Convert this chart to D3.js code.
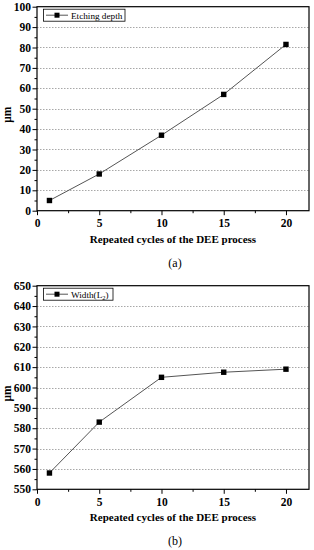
<!DOCTYPE html>
<html>
<head>
<meta charset="utf-8">
<script src="https://cdn.jsdelivr.net/npm/d3@7"></script>
<style>
  body { margin: 0; background: #fff; }
  svg text { font-family: "Liberation Serif", "Times New Roman", serif !important; fill: #000; }
</style>
</head>
<body>
<svg id="chart" width="314" height="550"></svg>
<script>
// data
const cycles = [1, 5, 10, 15, 20];
const depthValues = [5, 18, 37, 57, 81.5];
const widthValues = [558, 583, 605, 607.5, 609];
const xTicks = [0, 5, 10, 15, 20];
const depthTicks = [0, 10, 20, 30, 40, 50, 60, 70, 80, 90, 100];
const widthTicks = [550, 560, 570, 580, 590, 600, 610, 620, 630, 640, 650];

const svg = d3.select("#chart");

// one panel = one chart
function drawPanel(opt) {
  const left = 37, right = 309;
  const x = d3.scaleLinear().domain([0, 21.85]).range([left, right]);
  const y = d3.scaleLinear().domain(opt.yDomain).range([opt.bottom, opt.top]);
  const g = svg.append("g");

  // dotted grid
  g.selectAll(".grid")
    .data(opt.yTicks.slice(1, -1))
    .enter().append("line")
    .attr("x1", left).attr("x2", right)
    .attr("y1", d => Math.round(y(d)) + 0.5).attr("y2", d => Math.round(y(d)) + 0.5)
    .attr("stroke", "#a8a8a8")
    .attr("stroke-width", 1)
    .attr("stroke-dasharray", "1.5,1.5");

  // frame
  g.append("rect")
    .attr("x", left).attr("y", opt.top)
    .attr("width", right - left).attr("height", opt.bottom - opt.top)
    .attr("fill", "none").attr("stroke", "#000").attr("stroke-width", 1.2);

  // minor ticks
  const step = opt.yTicks[1] - opt.yTicks[0];
  const yMinor = opt.yTicks.slice(0, -1).map(d => d + step / 2);
  const xMinor = xTicks.map(d => d + 2.5);
  g.append("g")
    .attr("transform", `translate(0,${opt.bottom})`)
    .call(d3.axisBottom(x).tickValues(xMinor).tickFormat("").tickSize(2.5).tickSizeOuter(0))
    .call(a => a.select(".domain").remove());
  g.append("g")
    .attr("transform", `translate(${left},0)`)
    .call(d3.axisLeft(y).tickValues(yMinor).tickFormat("").tickSize(2.5).tickSizeOuter(0))
    .call(a => a.select(".domain").remove());

  // major axes
  const xAxis = g.append("g")
    .attr("transform", `translate(0,${opt.bottom})`)
    .call(d3.axisBottom(x).tickValues(xTicks).tickSize(4.5).tickPadding(4).tickSizeOuter(0));
  const yAxis = g.append("g")
    .attr("transform", `translate(${left},0)`)
    .call(d3.axisLeft(y).tickValues(opt.yTicks).tickSize(4.5).tickPadding(1.5).tickSizeOuter(0));
  [xAxis, yAxis].forEach(a => {
    a.select(".domain").remove();
    a.selectAll("text")
      .attr("font-weight", "bold")
      .attr("font-size", 11.5);
  });

  // line + markers
  const line = d3.line().x((d, i) => x(cycles[i])).y(d => y(d));
  g.append("path")
    .datum(opt.values)
    .attr("d", line)
    .attr("fill", "none")
    .attr("stroke", "#555")
    .attr("stroke-width", 1);
  g.selectAll(".pt")
    .data(opt.values)
    .enter().append("rect")
    .attr("x", (d, i) => x(cycles[i]) - 2.7)
    .attr("y", d => y(d) - 2.7)
    .attr("width", 5.4).attr("height", 5.4)
    .attr("fill", "#000");

  // legend
  const lg = g.append("g");
  lg.append("rect")
    .attr("x", 43.5).attr("y", opt.top + 2.5)
    .attr("width", opt.legendW).attr("height", 12)
    .attr("fill", "#fff").attr("stroke", "#000").attr("stroke-width", 0.8);
  lg.append("line")
    .attr("x1", 46).attr("x2", 68)
    .attr("y1", opt.top + 8.5).attr("y2", opt.top + 8.5)
    .attr("stroke", "#555");
  lg.append("rect")
    .attr("x", 54.5).attr("y", opt.top + 6).attr("width", 5).attr("height", 5)
    .attr("fill", "#000");
  const lt = lg.append("text")
    .attr("x", 71).attr("y", opt.top + 11.8)
    .attr("font-size", 9.2)
    .text(opt.label);
  if (opt.sub) {
    lt.append("tspan").attr("dy", 2).attr("font-size", 6.5).text(opt.sub);
    lt.append("tspan").attr("dy", -2).text(")");
  }

  // axis titles
  svg.append("text")
    .attr("transform", `translate(11,${(opt.top + opt.bottom) / 2 + 6}) rotate(-90)`)
    .attr("text-anchor", "middle")
    .attr("font-weight", "bold")
    .attr("font-size", 11.5)
    .text("μm");
  svg.append("text")
    .attr("x", 173).attr("y", opt.bottom + 32)
    .attr("text-anchor", "middle")
    .attr("font-weight", "bold")
    .attr("font-size", 11)
    .text("Repeated cycles of the DEE process");
  svg.append("text")
    .attr("x", 175).attr("y", opt.bottom + 56)
    .attr("text-anchor", "middle")
    .attr("font-size", 12)
    .text(opt.caption);
}

drawPanel({ top: 6.7, bottom: 210.7, yDomain: [0, 100], yTicks: depthTicks,
  values: depthValues, label: "Etching depth", legendW: 81.5, caption: "(a)" });
drawPanel({ top: 285.7, bottom: 489.3, yDomain: [550, 650], yTicks: widthTicks,
  values: widthValues, label: "Width(L", sub: "2", legendW: 69.5, caption: "(b)" });
</script>
</body>
</html>
